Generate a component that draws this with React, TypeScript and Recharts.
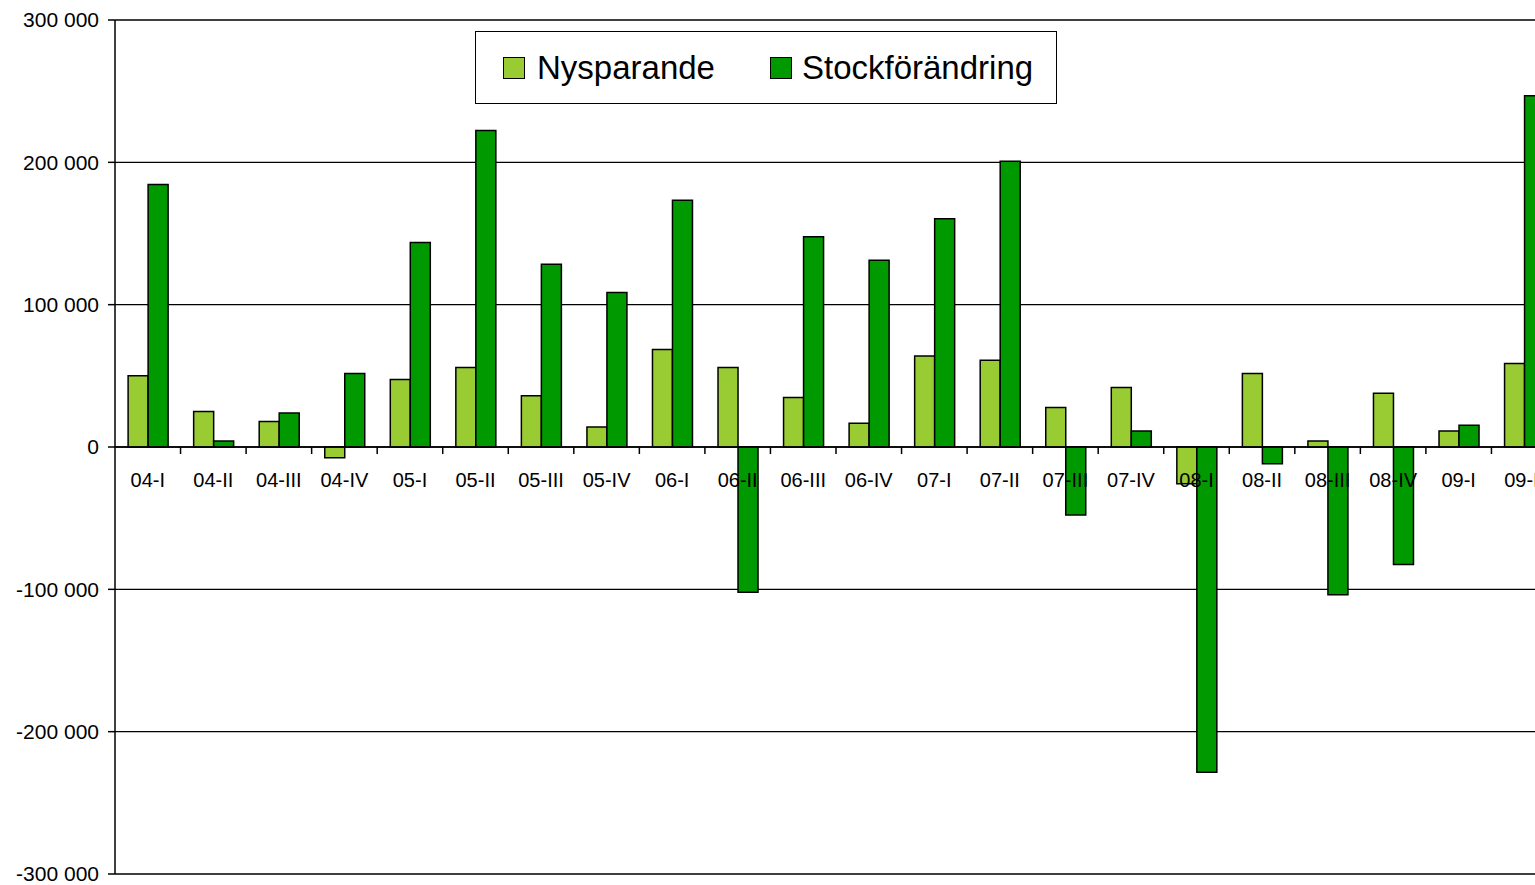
import React from 'react';
import { BarChart, Bar, XAxis, YAxis, CartesianGrid, ReferenceLine, Legend } from 'recharts';

const categories = [
  '04-I', '04-II', '04-III', '04-IV',
  '05-I', '05-II', '05-III', '05-IV',
  '06-I', '06-II', '06-III', '06-IV',
  '07-I', '07-II', '07-III', '07-IV',
  '08-I', '08-II', '08-III', '08-IV',
  '09-I', '09-II',
];

const nysparande = [
  50000, 25000, 18000, -7500,
  47400, 55800, 36000, 14000,
  68500, 55800, 34800, 16600,
  64000, 61000, 27800, 41800,
  -25900, 51600, 4200, 37800,
  11200, 58700,
];

const stockforandring = [
  184500, 4200, 23800, 51600,
  143600, 222400, 128400, 108500,
  173300, -102000, 147800, 131200,
  160400, 200800, -47700, 11200,
  -228500, -11700, -103800, -82500,
  15200, 246700,
];

const yTicks = [-300000, -200000, -100000, 0, 100000, 200000, 300000];

const data = categories.map((c, i) => ({
  kvartal: c,
  Nysparande: nysparande[i],
  'Stockförändring': stockforandring[i],
}));

const FONT = '"Liberation Sans", Arial, Helvetica, sans-serif';
const LIGHT = '#99CC33';
const DARK = '#009900';

const CHART_W = 1560;
const CHART_H = 885;
const MARGIN = { top: 20, right: 3, bottom: 10, left: 0 };
const Y_AXIS_W = 115;
const X_AXIS_H = 1;
const PLOT_W = CHART_W - MARGIN.left - MARGIN.right - Y_AXIS_W;
const PLOT_H = CHART_H - MARGIN.top - MARGIN.bottom - X_AXIS_H;
const BAND = PLOT_W / categories.length;

const fmt = (v: number) => {
  const s = Math.abs(v).toString().replace(/\B(?=(\d{3})+(?!\d))/g, ' ');
  return (v < 0 ? '-' : '') + s;
};

const XTick = (props: any) => {
  const { x, y, payload } = props;
  // the value axis is symmetric, so the zero line sits halfway up the plot
  const y0 = y - PLOT_H / 2;
  const bx = x + BAND / 2;
  return (
    <g>
      <line x1={bx} x2={bx} y1={y0} y2={y0 + 7} stroke="#000" strokeWidth={1.5} />
      <text
        x={x}
        y={y0 + 40}
        textAnchor="middle"
        fontFamily={FONT}
        fontSize={20}
        fill="#000"
      >
        {payload.value}
      </text>
    </g>
  );
};

const LegendBox = (props: any) => {
  const payload = props.payload || [];
  return (
    <div
      style={{
        width: 582,
        height: 73,
        boxSizing: 'border-box',
        border: '1.5px solid #000',
        background: '#fff',
        display: 'flex',
        alignItems: 'center',
        paddingLeft: 27,
        fontFamily: FONT,
        fontSize: 33,
        color: '#000',
      }}
    >
      {payload.map((p: any, i: number) => (
        <div
          key={p.value}
          style={{ display: 'flex', alignItems: 'center', marginLeft: i === 0 ? 0 : 55 }}
        >
          <div
            style={{
              width: 22,
              height: 22,
              boxSizing: 'border-box',
              border: '1.5px solid #000',
              background: p.color,
              marginRight: i === 0 ? 12 : 10,
            }}
          />
          <span style={{ lineHeight: '36px' }}>{p.value}</span>
        </div>
      ))}
    </div>
  );
};

export default function App() {
  return (
    <div
      style={{
        position: 'absolute',
        left: 0,
        top: 0,
        width: 1535,
        height: 885,
        overflow: 'hidden',
        background: '#fff',
      }}
    >
      <BarChart
        width={CHART_W}
        height={CHART_H}
        data={data}
        margin={MARGIN}
        barCategoryGap="20%"
        barGap={0}
      >
        <CartesianGrid vertical={false} stroke="#000" strokeWidth={1.3} />
        <XAxis
          dataKey="kvartal"
          height={X_AXIS_H}
          axisLine={false}
          tickLine={false}
          tickSize={0}
          tickMargin={0}
          interval={0}
          tick={<XTick />}
        />
        <YAxis
          width={Y_AXIS_W}
          domain={[-300000, 300000]}
          ticks={yTicks}
          interval={0}
          tickFormatter={fmt}
          axisLine={{ stroke: '#000', strokeWidth: 1.5 }}
          tickLine={{ stroke: '#000', strokeWidth: 1.5 }}
          tickSize={7}
          tickMargin={9}
          tick={{ fontFamily: FONT, fontSize: 21, fill: '#000' }}
        />
        <ReferenceLine y={0} stroke="#000" strokeWidth={1.5} />
        <Legend
          layout="horizontal"
          verticalAlign="middle"
          align="center"
          content={<LegendBox />}
          wrapperStyle={{ left: 475, top: 31, width: 582, height: 73 }}
        />
        <Bar
          dataKey="Nysparande"
          fill={LIGHT}
          stroke="#000"
          strokeWidth={1.5}
          isAnimationActive={false}
        />
        <Bar
          dataKey="Stockförändring"
          fill={DARK}
          stroke="#000"
          strokeWidth={1.5}
          isAnimationActive={false}
        />
      </BarChart>
    </div>
  );
}
